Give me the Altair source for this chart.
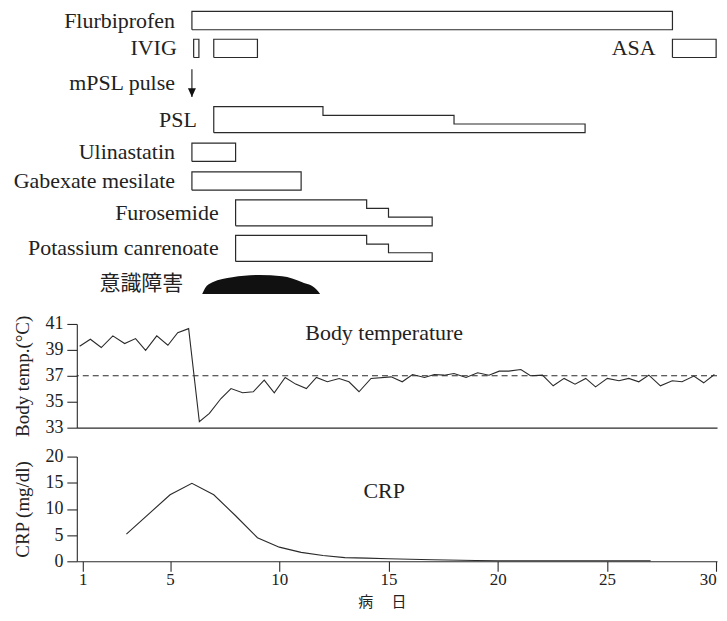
import altair as alt
import pandas as pd

# ---------------- data ----------------
# treatment rows (top to bottom) and their track position
rows = ["Flurbiprofen", "IVIG", "mPSL pulse", "PSL", "Ulinastatin",
        "Gabexate mesilate", "Furosemide", "Potassium canrenoate", "意識障害"]
row_track = [0, 0.85, 2.06, 3.15, 4.03, 4.91, 6.0, 7.09, 8.09]

# simple administration periods: drug, row, start day, end day
bar_drug = ["Flurbiprofen", "IVIG", "IVIG", "ASA", "Ulinastatin", "Gabexate mesilate"]
bar_row = ["Flurbiprofen", "IVIG", "IVIG", "IVIG", "Ulinastatin", "Gabexate mesilate"]
bar_start = [6, 6.08, 7, 28, 6, 6]
bar_end = [28, 6.32, 9, 30, 8, 11]

# tapered administration: drug, step boundaries (days), relative dose per step
step_drug = ["PSL", "Furosemide", "Potassium canrenoate"]
step_bounds = [[7, 12, 18, 24], [8, 14, 15, 17], [8, 14, 15, 17]]
step_dose = [[3, 2, 1], [3, 2, 1], [3, 2, 1]]

# mPSL pulse day
mpsl_day = 6

# disturbance of consciousness (relative severity)
ci_day = [6.47, 6.6, 6.94, 7.85, 9.08, 10.13, 11.05, 11.68, 11.87]
ci_level = [0, 0.3, 0.62, 0.88, 1.0, 0.93, 0.62, 0.27, 0]

# body temperature
temp_day = [0.86, 1.35, 1.85, 2.38, 2.92, 3.42, 3.88, 4.39, 4.9, 5.35, 5.85, 6.34, 6.8,
            7.33, 7.79, 8.32, 8.81, 9.31, 9.77, 10.27, 10.75, 11.24, 11.7, 12.2, 12.74,
            13.19, 13.65, 14.2, 15.12, 15.63, 16.1, 16.65, 17.1, 17.55, 18.0, 18.55,
            19.08, 19.6, 20.07, 20.5, 21.06, 21.5, 22.05, 22.54, 23.04, 23.54, 24.03,
            24.48, 25.02, 25.55, 26.0, 26.46, 26.92, 27.45, 27.99, 28.44, 28.98, 29.43,
            29.92]
temp_val = [39.28, 39.82, 39.18, 40.08, 39.49, 39.87, 38.97, 40.08, 39.36, 40.33, 40.64,
            33.46, 34.1, 35.25, 36.02, 35.69, 35.77, 36.67, 35.69, 36.87, 36.36, 36.02,
            36.87, 36.54, 36.79, 36.54, 35.77, 36.8, 36.92, 36.54, 37.1, 36.87, 37.1,
            37.05, 37.18, 36.87, 37.23, 37.05, 37.36, 37.36, 37.49, 37.0, 37.05, 36.23,
            36.8, 36.36, 36.8, 36.15, 36.8, 36.62, 36.8, 36.54, 37.05, 36.23, 36.62,
            36.54, 36.98, 36.46, 37.1]
temp_ref = 37

# CRP
crp_day = [3, 5, 6, 7, 8, 9, 10, 11, 12, 13, 14, 15, 17, 19, 20, 27]
crp_val = [5.2, 12.7, 14.9, 12.7, 8.7, 4.5, 2.7, 1.7, 1.1, 0.7, 0.6, 0.5, 0.3, 0.15, 0.1, 0.1]

x_ticks = [1, 5, 10, 15, 20, 25, 30]
temp_ticks = [33, 35, 37, 39, 41]
crp_ticks = [0, 5, 10, 15, 20]

# ---------------- styling ----------------
FONT = "Liberation Serif"
CJK = "Noto Sans CJK JP"
LC = "#2a2a2a"
TC = "#222222"
W = 642
SIMPLE_H = 0.56   # track units
DOSE_H = 0.265    # track units per dose step
ARROW_LEN = 0.85
CI_H = 0.585
LEFT_EXTENT = 69  # room kept left of the plot area for labels/titles

track = dict(zip(rows, row_track))

xs = alt.Scale(domain=[0.73, 30.04], nice=False, zero=False)
ys_top = alt.Scale(domain=[-0.64, 8.12], nice=False, zero=False, reverse=True)

pts = []
labels = []


def add_outline(sid, bounds, heights, base):
    seq = [(bounds[0], base)]
    for i, h in enumerate(heights):
        seq.append((bounds[i], base - h))
        seq.append((bounds[i + 1], base - h))
    seq.append((bounds[-1], base))
    seq.append((bounds[0], base))
    for k, (d, yv) in enumerate(seq):
        pts.append({"sid": sid, "ord": k, "day": d, "y": yv})


for i, (dr, rw, s, e) in enumerate(zip(bar_drug, bar_row, bar_start, bar_end)):
    add_outline(f"b{i}", [s, e], [SIMPLE_H], track[rw])

for i, (dr, b, ds) in enumerate(zip(step_drug, step_bounds, step_dose)):
    add_outline(f"s{i}", b, [d * DOSE_H for d in ds], track[dr])

outline_df = pd.DataFrame(pts)

seen = set()
for dr, rw, s in zip(bar_drug, bar_row, bar_start):
    if dr in seen:
        continue
    seen.add(dr)
    labels.append({"label": dr, "day": s, "y": track[rw] - SIMPLE_H / 2})
for dr, b, ds in zip(step_drug, step_bounds, step_dose):
    labels.append({"label": dr, "day": b[0], "y": track[dr] - max(ds) * DOSE_H / 2})
labels.append({"label": "mPSL pulse", "day": mpsl_day,
               "y": track["mPSL pulse"] - ARROW_LEN / 2})
lab_df = pd.DataFrame(labels)

ci_lab_df = pd.DataFrame({"label": ["意識障害"], "day": [ci_day[0]],
                          "y": [track["意識障害"] - CI_H / 2]})

arrow_df = pd.DataFrame({"day": [mpsl_day],
                         "y1": [track["mPSL pulse"] - ARROW_LEN],
                         "y2": [track["mPSL pulse"]]})

ci_df = pd.DataFrame({"day": ci_day,
                      "base": [track["意識障害"]] * len(ci_day),
                      "top": [track["意識障害"] - v * CI_H for v in ci_level]})

X0 = alt.X("day:Q", scale=xs, axis=None)

outlines = alt.Chart(outline_df).mark_line(color=LC, strokeWidth=1.2).encode(
    x=X0, y=alt.Y("y:Q", scale=ys_top, axis=None),
    detail="sid:N", order="ord:Q")

arrow_shaft = alt.Chart(arrow_df).mark_rule(color=LC, strokeWidth=1.2).encode(
    x=X0, y=alt.Y("y1:Q", scale=ys_top, axis=None), y2="y2:Q")
arrow_head = alt.Chart(arrow_df).mark_point(
    shape="M -1 -2.2 L 1 -2.2 L 0 0 Z", filled=True, size=64, color="#111", opacity=1
).encode(x=X0, y=alt.Y("y2:Q", scale=ys_top, axis=None))

ci_area = alt.Chart(ci_df).mark_area(color="#111", interpolate="monotone").encode(
    x=X0, y=alt.Y("top:Q", scale=ys_top, axis=None), y2="base:Q")

lab_text = alt.Chart(lab_df).mark_text(
    align="right", baseline="middle", dx=-17, fontSize=22, font=FONT, color=TC
).encode(x=X0, y=alt.Y("y:Q", scale=ys_top, axis=None), text="label:N")

ci_text = alt.Chart(ci_lab_df).mark_text(
    align="right", baseline="middle", dx=-19, fontSize=21, font=CJK, color=TC
).encode(x=X0, y=alt.Y("y:Q", scale=ys_top, axis=None), text="label:N")

# invisible layout guard fixing the space kept left of the plot area
guard = alt.Chart(pd.DataFrame({"g": [0]})).mark_rule(opacity=0, strokeWidth=1).encode(
    x=alt.value(-LEFT_EXTENT + 0.5), y=alt.value(0), y2=alt.value(2))

top = alt.layer(outlines, arrow_shaft, arrow_head, ci_area, lab_text, ci_text,
                guard).properties(width=W, height=287)

# temperature panel
x_temp = alt.Axis(ticks=False, labels=False, title=None, grid=False, domainColor=LC)
y_temp = alt.Axis(values=temp_ticks, tickCount=len(temp_ticks), format="d",
                  title="Body temp.(°C)", grid=False, labelOverlap=False)
ts = alt.Scale(domain=[33, 41], nice=False, zero=False)
tdf = pd.DataFrame({"day": temp_day, "temp": temp_val})
t_line = alt.Chart(tdf).mark_line(color=LC, strokeWidth=1.1).encode(
    x=alt.X("day:Q", scale=xs, axis=x_temp),
    y=alt.Y("temp:Q", scale=ts, axis=y_temp))
t_rule = alt.Chart(pd.DataFrame({"temp": [temp_ref]})).mark_rule(
    color=LC, strokeWidth=1.1, strokeDash=[6, 4]).encode(
    y=alt.Y("temp:Q", scale=ts, axis=y_temp))
t_lab = alt.Chart(pd.DataFrame({"day": [14.8], "temp": [40.3], "label": ["Body temperature"]})
                  ).mark_text(fontSize=22, font=FONT, color=TC, baseline="middle").encode(
    x=alt.X("day:Q", scale=xs, axis=x_temp),
    y=alt.Y("temp:Q", scale=ts, axis=y_temp), text="label:N")
temp = alt.layer(t_line, t_rule, t_lab).properties(width=W, height=104)

# CRP panel
x_crp = alt.Axis(values=x_ticks, tickCount=len(x_ticks), format="d", tickSize=10,
                 labelPadding=0, labelFontSize=17, labelFlush=False, labelOverlap=False,
                 grid=False,
                 labelAlign={"condition": {"test": "datum.value >= 30", "value": "right"},
                             "value": "center"},
                 title="病　 日", titleFont=CJK, titleFontSize=15,
                 titleFontWeight="normal", titleX=306, titleY=33,
                 titleBaseline="top", titleAnchor="start", titleAlign="center")
y_crp = alt.Axis(values=crp_ticks, tickCount=len(crp_ticks), format="d",
                 title="CRP (mg/dl)", grid=False, labelOverlap=False)
cs = alt.Scale(domain=[0, 20], nice=False)
cdf = pd.DataFrame({"day": crp_day, "crp": crp_val})
c_line = alt.Chart(cdf).mark_line(color=LC, strokeWidth=1.1).encode(
    x=alt.X("day:Q", scale=xs, axis=x_crp),
    y=alt.Y("crp:Q", scale=cs, axis=y_crp))
c_lab = alt.Chart(pd.DataFrame({"day": [14.8], "crp": [13.5], "label": ["CRP"]})
                  ).mark_text(fontSize=22, font=FONT, color=TC, baseline="middle").encode(
    x=alt.X("day:Q", scale=xs, axis=x_crp),
    y=alt.Y("crp:Q", scale=cs, axis=y_crp), text="label:N")
crp = alt.layer(c_line, c_lab).properties(width=W, height=105)

chart = alt.vconcat(top, temp, crp, spacing=29, bounds="flush").properties(
    padding={"left": 0, "top": 0, "right": 0, "bottom": 2}
).configure_view(stroke=None).configure_axis(
    domainColor=LC, tickColor=LC, labelColor=TC, titleColor=TC,
    labelFont=FONT, titleFont=FONT, labelFontSize=18, titleFontSize=19,
    titleFontWeight="normal", tickSize=10, labelPadding=4, titlePadding=12,
    domainWidth=1.1, tickWidth=1.1
)

chart.save("out.html", embed_options={"renderer": "svg", "actions": False})
